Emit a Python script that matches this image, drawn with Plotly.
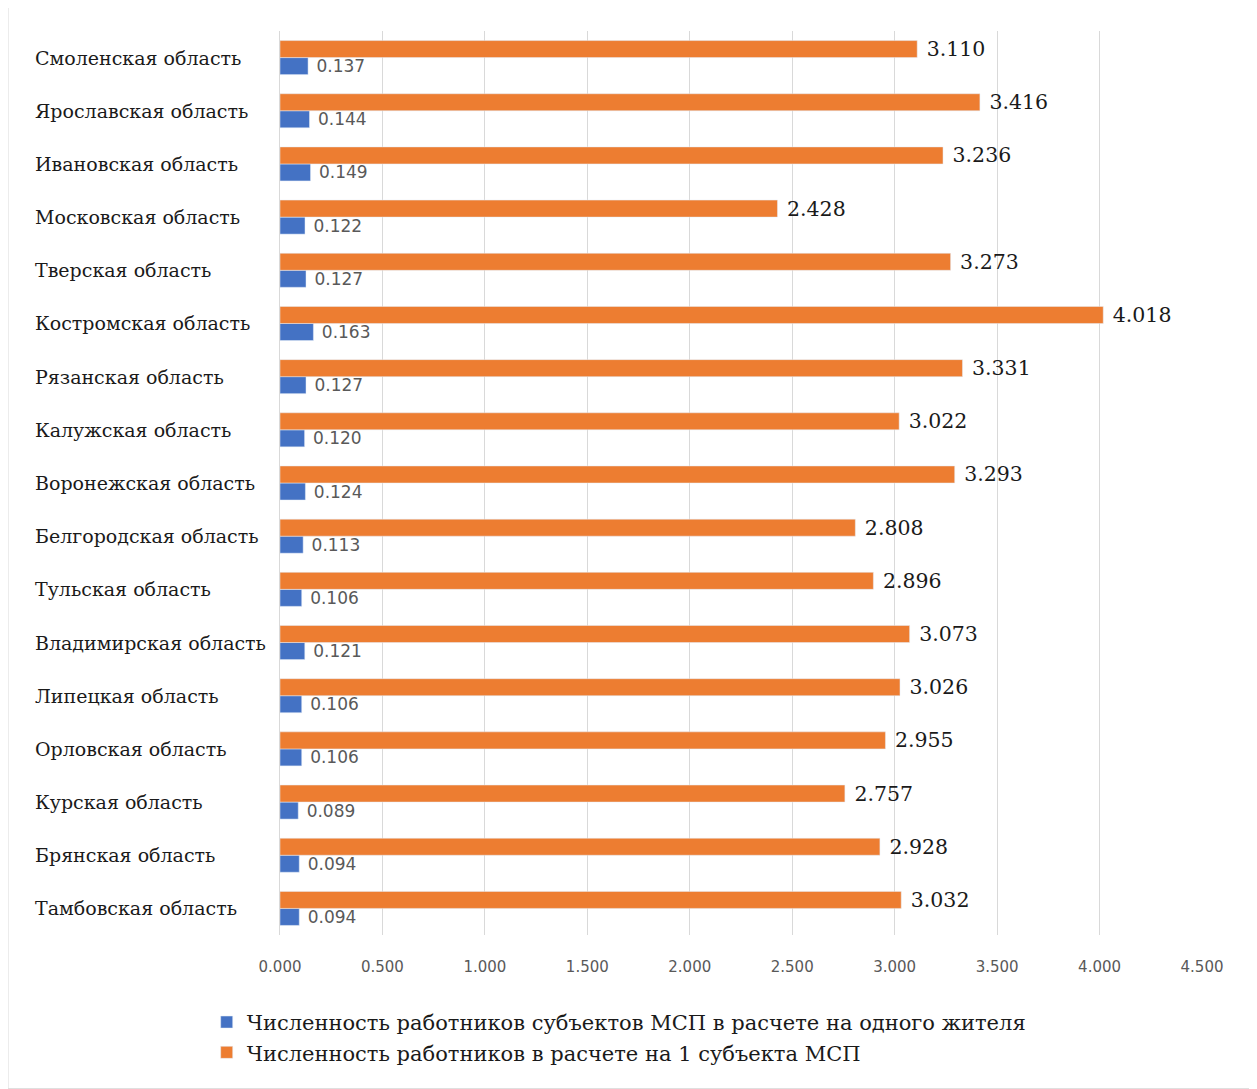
import plotly.graph_objects as go

regions = [
    "Смоленская область", "Ярославская область", "Ивановская область",
    "Московская область", "Тверская область", "Костромская область",
    "Рязанская область", "Калужская область", "Воронежская область",
    "Белгородская область", "Тульская область", "Владимирская область",
    "Липецкая область", "Орловская область", "Курская область",
    "Брянская область", "Тамбовская область",
]
per_resident = [0.137, 0.144, 0.149, 0.122, 0.127, 0.163, 0.127, 0.120, 0.124,
                0.113, 0.106, 0.121, 0.106, 0.106, 0.089, 0.094, 0.094]
per_subject = [3.110, 3.416, 3.236, 2.428, 3.273, 4.018, 3.331, 3.022, 3.293,
               2.808, 2.896, 3.073, 3.026, 2.955, 2.757, 2.928, 3.032]
x_ticks = [0, 0.5, 1.0, 1.5, 2.0, 2.5, 3.0, 3.5, 4.0, 4.5]

name_resident = "Численность работников субъектов МСП в расчете на одного жителя"
name_subject = "Численность работников в расчете на 1 субъекта МСП"

SERIF = "DejaVu Serif"
SANS = "DejaVu Sans"

fig = go.Figure()
fig.add_trace(go.Bar(
    y=regions, x=per_resident, orientation="h", name=name_resident,
    marker_color="#4472C4", texttemplate=" %{x:.3f}", textposition="outside",
    textfont=dict(family=SANS, size=17, color="#595959"),
    cliponaxis=False, constraintext="none",
))
fig.add_trace(go.Bar(
    y=regions, x=per_subject, orientation="h", name=name_subject,
    marker_color="#ED7D31", texttemplate=" %{x:.3f}", textposition="outside",
    textfont=dict(family=SERIF, size=20.5, color="#1a1a1a"),
    cliponaxis=False, constraintext="none",
))

for r in regions:
    fig.add_annotation(
        x=-0.268, xref="paper", y=r, yref="y", text=r, showarrow=False,
        xanchor="left", yanchor="middle",
        font=dict(family=SERIF, size=19, color="#1a1a1a"),
    )

fig.update_layout(
    width=1249, height=1081,
    margin=dict(l=272, r=55, t=23, b=154),
    barmode="group", bargap=0.36, bargroupgap=0,
    plot_bgcolor="white", paper_bgcolor="white",
    showlegend=True,
    legend=dict(
        x=-0.0795, y=-0.074, xanchor="left", yanchor="top",
        orientation="v", traceorder="normal",
        font=dict(family=SERIF, size=21, color="#1a1a1a"),
        itemwidth=30, tracegroupgap=0,
    ),
    shapes=[dict(
        type="rect", xref="paper", yref="paper",
        x0=-0.295, x1=1.055, y0=-0.17, y1=1.03,
        line=dict(color="#D9D9D9", width=1), fillcolor="rgba(0,0,0,0)",
    )],
)
fig.update_xaxes(
    range=[0, 4.5], tickvals=x_ticks, tickformat=".3f",
    showgrid=True, gridcolor="#D9D9D9", gridwidth=1,
    zeroline=False, showline=False,
    ticks="outside", ticklen=18, tickcolor="rgba(0,0,0,0)",
    tickfont=dict(family=SANS, size=15, color="#595959"),
)
fig.update_yaxes(
    categoryorder="array", categoryarray=regions[::-1],
    showticklabels=False, showgrid=False, zeroline=False,
    showline=True, linecolor="#D9D9D9", linewidth=1,
)

fig.write_html("out.html")
